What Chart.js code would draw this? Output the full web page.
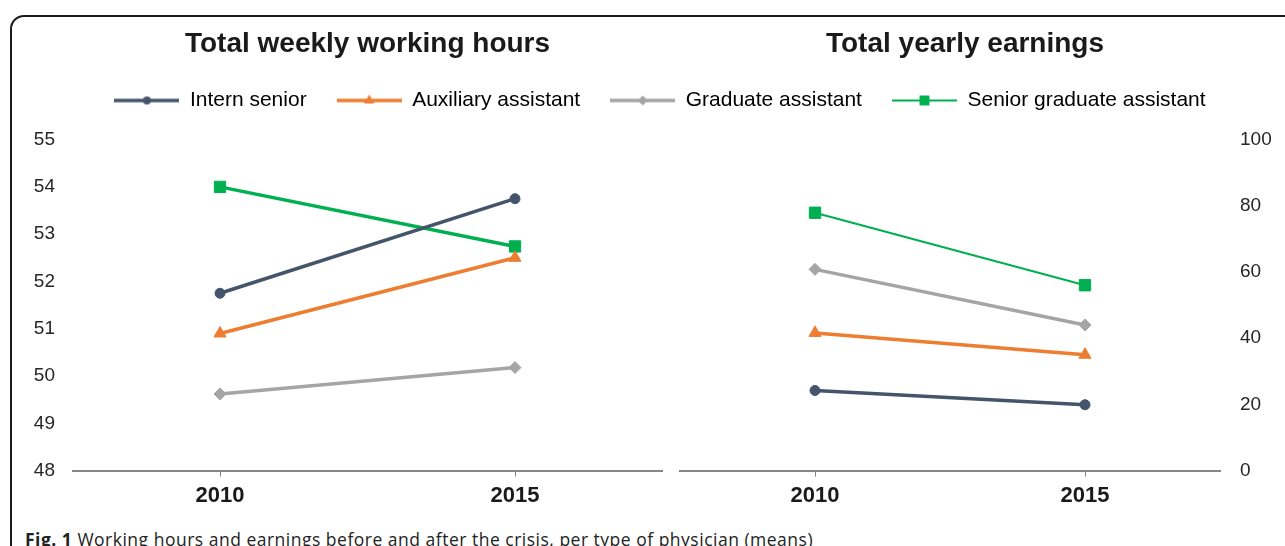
<!DOCTYPE html>
<html>
<head>
<meta charset="utf-8">
<script src="https://cdn.jsdelivr.net/npm/chart.js@4"></script>
<style>
  html, body { margin: 0; padding: 0; background: #fff; }
  body { width: 1285px; height: 546px; position: relative; overflow: hidden; }
  #frame { position: absolute; left: 10px; top: 15px; width: 1300px; height: 560px;
           border: 2px solid #1a1a1a; border-radius: 14px; box-sizing: border-box; }
  .box { position: absolute; }
  #legendBox { left: 35px; top: 60px; width: 1250px; height: 200px; }
  #leftBox { left: 0; top: 20px; width: 735px; height: 495px; }
  #rightBox { left: 655px; top: 20px; width: 630px; height: 495px; }
  #caption { position: absolute; left: 25px; top: 527px; font-family: "Open Sans", sans-serif;
             font-size: 17.5px; letter-spacing: 0.5px; color: #222; white-space: nowrap; }
</style>
</head>
<body>
<div id="frame"></div>
<div class="box" id="leftBox"><canvas id="graficoHoras"></canvas></div>
<div class="box" id="rightBox"><canvas id="graficoGanhos"></canvas></div>
<div class="box" id="legendBox"><canvas id="legenda"></canvas></div>
<div id="caption"><b>Fig. 1</b> Working hours and earnings before and after the crisis, per type of physician (means)</div>

<script>
// categorias
const anos = ["2010", "2015"];

// series
const nomes = ["Intern senior", "Auxiliary assistant", "Graduate assistant", "Senior graduate assistant"];
const cores = ["#44546A", "#ED7D31", "#A5A5A5", "#00B050"];
const estilos = ["circle", "triangle", "rectRot", "rect"];

// horas semanais (media)
const horasIntern = [51.75, 53.75];
const horasAuxiliary = [50.9, 52.5];
const horasGraduate = [49.62, 50.18];
const horasSenior = [54.0, 52.74];

// ganhos anuais (media)
const ganhosIntern = [24.2, 19.9];
const ganhosAuxiliary = [41.6, 35.0];
const ganhosGraduate = [60.8, 44.0];
const ganhosSenior = [77.9, 56.0];

// eixos
const eixoHoras = { min: 48, max: 55, passo: 1 };
const eixoGanhos = { min: 0, max: 100, passo: 20 };

Chart.defaults.font.family = "'Liberation Sans', Arial, sans-serif";
Chart.defaults.color = "#262626";

const raios = [5, 7, 6, 8];

function serie(i, dados, largura) {
  return {
    label: nomes[i],
    data: dados,
    borderColor: cores[i],
    backgroundColor: cores[i],
    borderWidth: largura,
    pointStyle: estilos[i],
    pointRadius: raios[i],
    pointBackgroundColor: cores[i],
    pointBorderColor: cores[i],
    pointBorderWidth: 1,
    tension: 0,
  };
}

function opcoesEixoX() {
  return {
    offset: true,
    grid: { display: true, drawOnChartArea: false, drawTicks: true, tickLength: 6, color: "#868686", lineWidth: 1 },
    border: { display: true, color: "#868686", width: 2 },
    ticks: { font: { size: 22, weight: "bold" }, color: "#1a1a1a", padding: 6 },
  };
}

function opcoesTitulo(texto, cheio) {
  return {
    display: true,
    fullSize: cheio,
    text: texto,
    font: { size: 28, weight: "bold" },
    color: "#1a1a1a",
    padding: { top: 7, bottom: 79 },
  };
}

// grafico da esquerda
new Chart(document.getElementById("graficoHoras"), {
  type: "line",
  data: {
    labels: anos,
    datasets: [
      serie(0, horasIntern, 3.5),
      serie(1, horasAuxiliary, 3.5),
      serie(2, horasGraduate, 3.5),
      serie(3, horasSenior, 3.5),
    ],
  },
  options: {
    animation: false,
    responsive: true,
    maintainAspectRatio: false,
    layout: { padding: { left: 32.5, right: 72.5, top: 0, bottom: 0 } },
    plugins: { legend: { display: false }, tooltip: { enabled: false }, title: opcoesTitulo("Total weekly working hours", false) },
    scales: {
      x: opcoesEixoX(),
      y: {
        min: eixoHoras.min, max: eixoHoras.max,
        ticks: { stepSize: eixoHoras.passo, font: { size: 19 }, padding: 17.5 },
        grid: { display: false, drawTicks: false },
        border: { display: false },
        afterFit: (s) => { s.width = 40; },
      },
    },
  },
});

// grafico da direita (eixo vazio a esquerda so para centrar o titulo)
new Chart(document.getElementById("graficoGanhos"), {
  type: "line",
  data: {
    labels: anos,
    datasets: [
      serie(0, ganhosIntern, 3.5),
      serie(1, ganhosAuxiliary, 3.5),
      serie(2, ganhosGraduate, 3.5),
      serie(3, ganhosSenior, 2),
    ],
  },
  options: {
    animation: false,
    responsive: true,
    maintainAspectRatio: false,
    layout: { padding: { left: 3, right: 13, top: 0, bottom: 0 } },
    plugins: { legend: { display: false }, tooltip: { enabled: false }, title: opcoesTitulo("Total yearly earnings", true) },
    scales: {
      x: opcoesEixoX(),
      y: {
        position: "right",
        min: eixoGanhos.min, max: eixoGanhos.max,
        ticks: { stepSize: eixoGanhos.passo, font: { size: 19 }, padding: 20 },
        grid: { display: false, drawTicks: false },
        border: { display: false },
        afterFit: (s) => { s.width = 52; },
      },
      vazio: {
        type: "linear",
        position: "left",
        ticks: { display: false },
        grid: { display: false, drawTicks: false },
        border: { display: false },
        afterFit: (s) => { s.width = 22; },
      },
    },
  },
});

// icones da legenda: linha com o marcador no meio
const larguraIcone = 65;

function desenharMarcador(g, estilo, r, x, y) {
  g.beginPath();
  if (estilo === "circle") {
    g.arc(x, y, r, 0, Math.PI * 2);
  } else if (estilo === "triangle") {
    g.moveTo(x, y - r);
    g.lineTo(x + r * 0.87, y + r * 0.5);
    g.lineTo(x - r * 0.87, y + r * 0.5);
    g.closePath();
  } else if (estilo === "rectRot") {
    g.moveTo(x, y - r);
    g.lineTo(x + r, y);
    g.lineTo(x, y + r);
    g.lineTo(x - r, y);
    g.closePath();
  } else {
    const l = r * Math.SQRT1_2;
    g.rect(x - l, y - l, 2 * l, 2 * l);
  }
  g.fill();
}

const icones = nomes.map((n, i) => {
  const c = document.createElement("canvas");
  c.width = larguraIcone;
  c.height = 18;
  const g = c.getContext("2d");
  g.strokeStyle = cores[i];
  g.fillStyle = cores[i];
  g.lineWidth = i === 3 ? 2 : 3.5;
  g.beginPath();
  g.moveTo(0, 9);
  g.lineTo(larguraIcone, 9);
  g.stroke();
  desenharMarcador(g, estilos[i], raios[i] - 1, larguraIcone / 2, 9);
  return c;
});

// legenda compartilhada
new Chart(document.getElementById("legenda"), {
  type: "line",
  data: { labels: [], datasets: nomes.map((n, i) => ({ label: n, data: [], borderColor: cores[i] })) },
  options: {
    animation: false,
    responsive: true,
    maintainAspectRatio: false,
    scales: { x: { display: false }, y: { display: false } },
    plugins: {
      tooltip: { enabled: false },
      legend: {
        display: true,
        position: "top",
        labels: {
          usePointStyle: true,
          pointStyleWidth: larguraIcone,
          padding: 30,
          font: { size: 21 },
          color: "#222",
          generateLabels: () => nomes.map((n, i) => ({
            text: n,
            pointStyle: icones[i],
            fillStyle: cores[i],
            strokeStyle: cores[i],
            lineWidth: 0,
            hidden: false,
            datasetIndex: i,
          })),
        },
      },
    },
  },
});
</script>
</body>
</html>
